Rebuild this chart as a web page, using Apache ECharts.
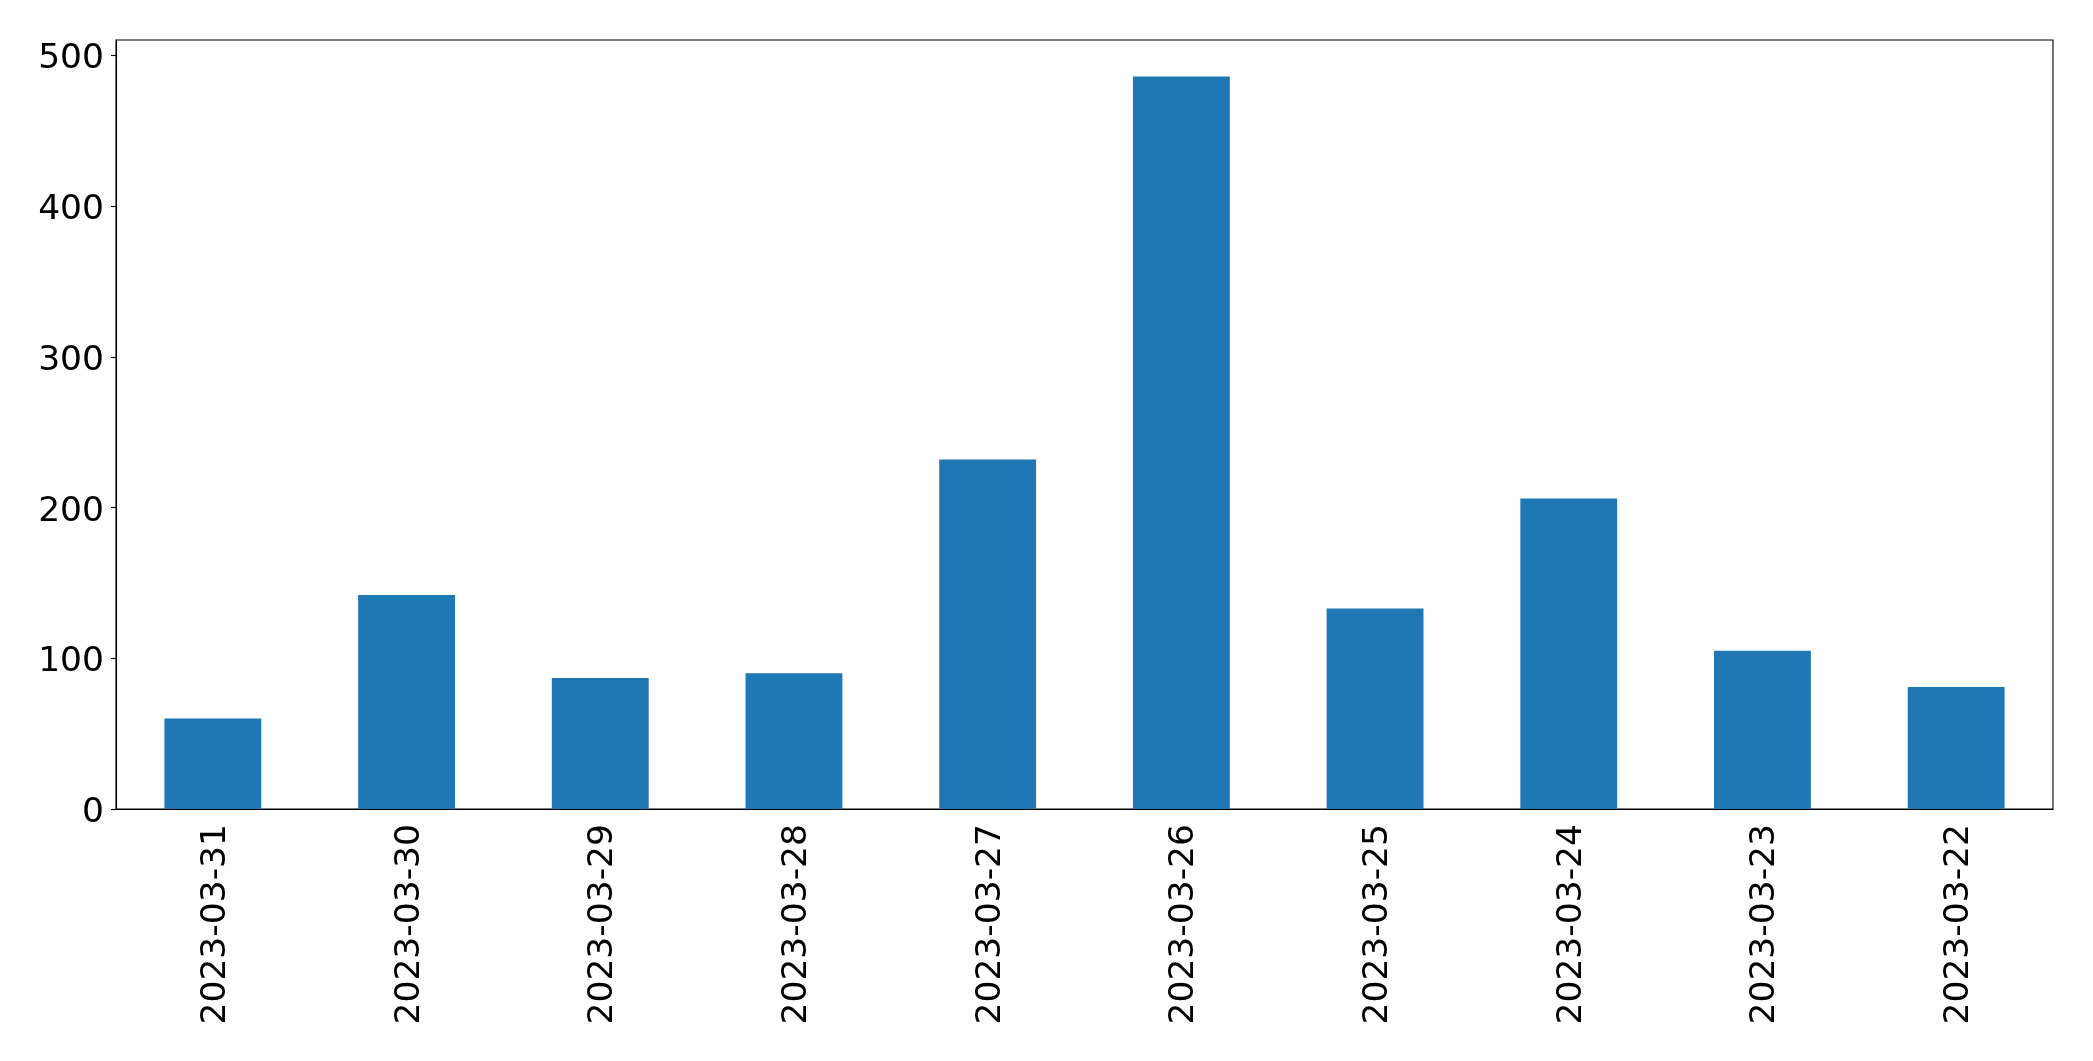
<!DOCTYPE html>
<html>
<head>
<meta charset="utf-8">
<script src="https://cdn.jsdelivr.net/npm/echarts@6/dist/echarts.min.js"></script>
<style>
  html, body { margin: 0; padding: 0; background: #fff; }
  #chart { width: 2093px; height: 1061px; }
</style>
</head>
<body>
<div id="chart"></div>
<script>
// dates, newest first (as in the source chart)
const dates = [
  "2023-03-31", "2023-03-30", "2023-03-29", "2023-03-28", "2023-03-27",
  "2023-03-26", "2023-03-25", "2023-03-24", "2023-03-23", "2023-03-22"
];
const counts = [60, 142, 87, 90, 232, 486, 133, 206, 105, 81];
const yTicks = [0, 100, 200, 300, 400, 500];

const font = "DejaVu Sans";
const chart = echarts.init(document.getElementById("chart"));

// nudge label text down a little, like matplotlib's centre-baseline
const labelText = { color: "#000", fontFamily: font, fontSize: 34.5 };

chart.setOption({
  animation: false,
  backgroundColor: "#fff",
  grid: {
    left: 116,
    right: 40,
    top: 40,
    bottom: 252,
    show: true,
    borderColor: "#000",
    borderWidth: 1.1,
    backgroundColor: "transparent",
  },
  xAxis: {
    type: "category",
    data: dates,
    axisLine: { lineStyle: { color: "#000", width: 1.1 } },
    axisTick: { alignWithLabel: true, length: 5, lineStyle: { color: "#000", width: 1.1 } },
    axisLabel: {
      rotate: 90,
      interval: 0,
      margin: 15,
      formatter: (v) => "{t|" + v + "}",
      rich: { t: { ...labelText, padding: [6, 0, 0, 0] } },
      ...labelText,
    },
  },
  yAxis: {
    type: "value",
    min: 0,
    max: 510.3,
    interval: 100,
    splitLine: { show: false },
    axisLine: { show: true, lineStyle: { color: "#000", width: 1.1 } },
    axisTick: {
      show: true,
      length: 5,
      customValues: yTicks,
      lineStyle: { color: "#000", width: 1.1 },
    },
    axisLabel: {
      customValues: yTicks,
      margin: 12,
      formatter: (v) => "{t|" + v + "}",
      rich: { t: { ...labelText, padding: [8, 0, 0, 0] } },
      ...labelText,
    },
  },
  series: [
    {
      type: "bar",
      data: counts,
      barWidth: "50%",
      itemStyle: { color: "#1f77b4" },
    },
  ],
});
</script>
</body>
</html>
